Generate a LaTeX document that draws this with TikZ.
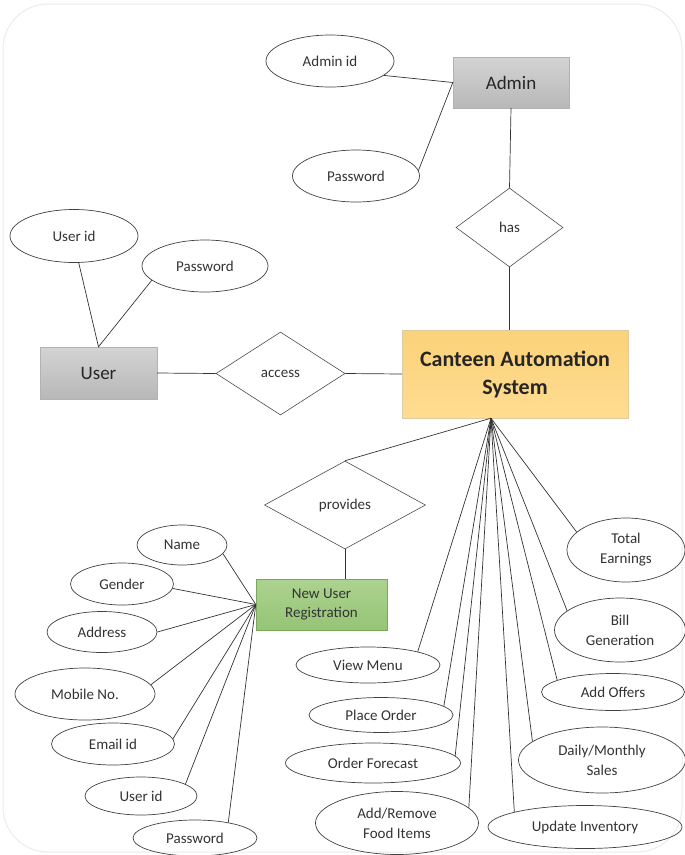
\documentclass[tikz,border=0pt]{standalone}
\usepackage{fontspec}
\setmainfont{Carlito}
\usetikzlibrary{shapes}
\usepackage{xcolor}
\definecolor{castop}{RGB}{252,210,122}
\definecolor{casbot}{RGB}{254,220,145}
\definecolor{nurtop}{RGB}{172,210,144}
\definecolor{nurbot}{RGB}{150,196,118}
\definecolor{nurline}{RGB}{120,170,90}

\begin{document}
\begin{tikzpicture}[x=1pt,y=-1pt]
  \tikzstyle{attr}=[ellipse,draw=black!75,line width=0.7pt,inner sep=0pt,align=center,text=black!80,font=\fontsize{15}{20}\selectfont]
  \tikzstyle{ent}=[rectangle,draw=black!30,top color=black!17,bottom color=black!28,inner sep=0pt,font=\fontsize{19}{23}\selectfont,text=black!85]
  \tikzstyle{rel}=[diamond,draw=black!70,line width=0.6pt,inner sep=0pt,font=\fontsize{15}{18}\selectfont,text=black!80]
  \tikzstyle{link}=[draw=black!80,line width=0.7pt]
  \useasboundingbox (0,0) rectangle (685,855);
  \draw[black!8,line width=1pt,rounded corners=45] (3,4) rectangle (682,852);

  \node[ent,minimum width=116,minimum height=51] (admin) at (511,82.5) {Admin};
  \node[ent,minimum width=117,minimum height=52] (user) at (98.5,373) {User};
  \node[rectangle,draw=castop!80!black!60,top color=castop,bottom color=casbot,inner sep=0pt,minimum width=226,minimum height=88,align=center,text=black!85,font=\bfseries\fontsize{22}{28}\selectfont] (cas) at (515,374) {Canteen Automation\\System};
  \node[rectangle,draw=nurline,top color=nurtop,bottom color=nurbot,inner sep=0pt,minimum width=131,minimum height=51,align=center,text=black!80,font=\fontsize{15}{19}\selectfont] (nur) at (321.5,604.5) {New User\\Registration};

  \node[rel,minimum width=107,minimum height=79] (has) at (509.5,227.5) {has};
  \node[rel,minimum width=129,minimum height=83] (access) at (280.5,373.5) {access};
  \node[rel,minimum width=161,minimum height=88] (provides) at (345,505) {provides};

  \node[attr,minimum width=128,minimum height=52] (adminid) at (330,61) {Admin id};
  \node[attr,minimum width=127,minimum height=52] (adminpw) at (356,176) {Password};
  \node[attr,minimum width=128,minimum height=53] (userid) at (74,236) {User id};
  \node[attr,minimum width=126,minimum height=52] (userpw) at (205,266) {Password};

  \node[attr,minimum width=90,minimum height=40] (name) at (182,545) {Name};
  \node[attr,minimum width=103,minimum height=42] (gender) at (122,584) {Gender};
  \node[attr,minimum width=110,minimum height=41] (address) at (102,632) {Address};
  \node[attr,minimum width=140,minimum height=52] (mobile) at (85,694) {Mobile No.};
  \node[attr,minimum width=123,minimum height=42] (email) at (113,744) {Email id};
  \node[attr,minimum width=112,minimum height=38] (nuid) at (141,796) {User id};
  \node[attr,minimum width=124,minimum height=36] (nupw) at (195,838) {Password};

  \node[attr,minimum width=144,minimum height=36] (menu) at (368,665) {View Menu};
  \node[attr,minimum width=144,minimum height=35] (order) at (381,715) {Place Order};
  \node[attr,minimum width=175,minimum height=40] (forecast) at (373,763) {Order Forecast};
  \node[attr,minimum width=163,minimum height=63] (items) at (397,823) {Add/Remove\\Food Items};
  \node[attr,minimum width=194,minimum height=43] (inventory) at (585,827) {Update Inventory};
  \node[attr,minimum width=167,minimum height=66] (sales) at (602,760) {Daily/Monthly\\Sales};
  \node[attr,minimum width=143,minimum height=37] (offers) at (613,692) {Add Offers};
  \node[attr,minimum width=131,minimum height=64] (bill) at (620,630) {Bill\\Generation};
  \node[attr,minimum width=118,minimum height=64] (earnings) at (626,550) {Total\\Earnings};

  \coordinate (hub) at ([xshift=-24]cas.south);

  \draw[link] (adminid.-15) -- (admin.west) -- (adminpw.5);
  \draw[link] (admin.south) -- (has.north);
  \draw[link] (has.south) -- (has.south |- cas.north);
  \draw[link] (userid.-80) -- (user.north) -- (userpw.195);
  \draw[link] (user.east) -- (access.west);
  \draw[link] (access.east) -- (cas.west);
  \draw[link] (hub) -- (provides.north);
  \draw[link] (provides.south) -- (provides.south |- nur.north);

  \draw[link] (name.-12) -- (nur.west);
  \draw[link] (gender.-5) -- (nur.west);
  \draw[link] (address.0) -- (nur.west);
  \draw[link] (mobile.8) -- (nur.west);
  \draw[link] (email.5) -- (nur.west);
  \draw[link] (nuid.15) -- (nur.west);
  \draw[link] (nupw.25) -- (nur.west);

  \draw[link] (hub) -- (menu.15);
  \draw[link] (hub) -- (order.8);
  \draw[link] (hub) -- (forecast.5);
  \draw[link] (hub) -- (items.12);
  \draw[link] (hub) -- (inventory.168);
  \draw[link] (hub) -- (sales.165);
  \draw[link] (hub) -- (offers.168);
  \draw[link] (hub) -- (bill.160);
  \draw[link] (hub) -- (earnings.160);
\end{tikzpicture}
\end{document}
